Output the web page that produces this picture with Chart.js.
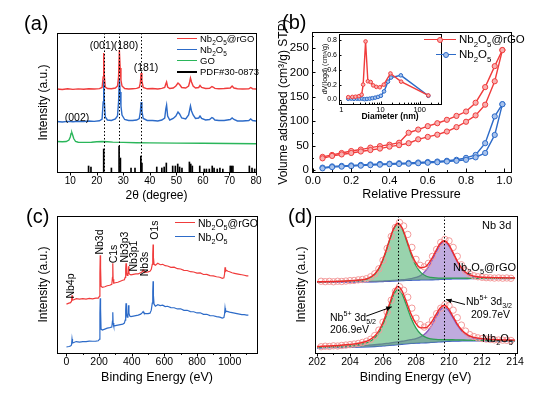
<!DOCTYPE html>
<html>
<head>
<meta charset="utf-8">
<script src="https://cdn.jsdelivr.net/npm/chart.js@4.4.1/dist/chart.umd.min.js"></script>
<style>
html, body { margin: 0; padding: 0; background: #fff; }
#page { position: relative; width: 540px; height: 397px; overflow: hidden; font-family: "Liberation Sans", Arial, sans-serif; color: #000; }
#page canvas { position: absolute; left: 0; top: 0; }
.t { position: absolute; white-space: nowrap; line-height: 1; }
.t sub, .t sup { font-size: 0.68em; line-height: 0; }
.cl { transform: translate(0, -50%); }
.cc { transform: translate(-50%, -50%); }
.cr { transform: translate(-100%, -50%); }
.rc { transform: translate(-50%, -50%) rotate(-90deg); }
.ln { position: absolute; height: 0; }
.mk { position: absolute; width: 4px; height: 4px; border: 1px solid; border-radius: 50%; }
</style>
</head>
<body>
<div id="page">
  <canvas id="xrd" width="540" height="397"></canvas>
  <canvas id="bet" width="540" height="397"></canvas>
  <canvas id="pore" width="540" height="397"></canvas>
  <canvas id="survey" width="540" height="397"></canvas>
  <canvas id="nb3d" width="540" height="397"></canvas>

  <!-- (a) -->
  <div class="t" style="left:24px;top:13px;font-size:20px">(a)</div>
  <div class="t cc" style="left:102px;top:45px;font-size:10.5px">(001)</div>
  <div class="t cc" style="left:126px;top:45px;font-size:10.5px">(180)</div>
  <div class="t cc" style="left:146px;top:67px;font-size:10.5px">(181)</div>
  <div class="t cc" style="left:77px;top:117px;font-size:10.5px">(002)</div>
  <div class="ln" style="left:177px;top:38.3px;width:20px;border-top:1.4px solid #f03c3c"></div>
  <div class="ln" style="left:177px;top:49.3px;width:20px;border-top:1.4px solid #2d6bc8"></div>
  <div class="ln" style="left:177px;top:60.3px;width:20px;border-top:1.4px solid #2ab65a"></div>
  <div class="ln" style="left:177px;top:71px;width:20px;border-top:2px solid #000"></div>
  <div class="t cl" style="left:200px;top:39px;font-size:9.5px">Nb<sub>2</sub>O<sub>5</sub>@rGO</div>
  <div class="t cl" style="left:200px;top:50px;font-size:9.5px">Nb<sub>2</sub>O<sub>5</sub></div>
  <div class="t cl" style="left:200px;top:61px;font-size:9.5px">GO</div>
  <div class="t cl" style="left:200px;top:72px;font-size:9.5px">PDF#30-0873</div>

  <!-- (b) -->
  <div class="t" style="left:282px;top:12px;font-size:20px">(b)</div>
  <div class="ln" style="left:424px;top:39.3px;width:32px;border-top:1.4px solid #f03c3c"></div>
  <div class="mk" style="left:437px;top:37px;border-color:#f03c3c;background:#f8b0b0"></div>
  <div class="t cl" style="left:459px;top:40px;font-size:11.5px">Nb<sub>2</sub>O<sub>5</sub>@rGO</div>
  <div class="ln" style="left:436px;top:54.3px;width:20px;border-top:1.4px solid #2d6bc8"></div>
  <div class="mk" style="left:443px;top:52px;border-color:#2d6bc8;background:#a9c3ec"></div>
  <div class="t cl" style="left:459px;top:55px;font-size:11.5px">Nb<sub>2</sub>O<sub>5</sub></div>

  <!-- (c) -->
  <div class="t" style="left:26px;top:206px;font-size:20px">(c)</div>
  <div class="t rc" style="left:70px;top:285.5px;font-size:10.5px">Nb4p</div>
  <div class="t rc" style="left:99px;top:242px;font-size:10.5px">Nb3d</div>
  <div class="t rc" style="left:112.5px;top:254px;font-size:10.5px">C1s</div>
  <div class="t rc" style="left:124px;top:247px;font-size:10.5px">Nb3p3</div>
  <div class="t rc" style="left:132.5px;top:256px;font-size:10.5px">Nb3p1</div>
  <div class="t rc" style="left:144px;top:264px;font-size:10.5px">Nb3s</div>
  <div class="t rc" style="left:154px;top:230px;font-size:10.5px">O1s</div>
  <div class="ln" style="left:175px;top:222.3px;width:20px;border-top:1.4px solid #f03c3c"></div>
  <div class="ln" style="left:175px;top:236.3px;width:20px;border-top:1.4px solid #2d6bc8"></div>
  <div class="t cl" style="left:198px;top:223px;font-size:10.5px">Nb<sub>2</sub>O<sub>5</sub>@rGO</div>
  <div class="t cl" style="left:198px;top:237px;font-size:10.5px">Nb<sub>2</sub>O<sub>5</sub></div>

  <!-- (d) -->
  <div class="t" style="left:288px;top:206px;font-size:20px">(d)</div>
  <div class="t cl" style="left:482px;top:225px;font-size:11px">Nb 3d</div>
  <div class="t cr" style="left:516px;top:267px;font-size:11px">Nb<sub>2</sub>O<sub>5</sub>@rGO</div>
  <div class="t cr" style="left:513px;top:338px;font-size:11px">Nb<sub>2</sub>O<sub>5</sub></div>
  <div class="t cl" style="left:466px;top:301px;font-size:10.5px">Nb<sup>5+</sup> 3d<sub>3/2</sub></div>
  <div class="t cl" style="left:471px;top:313.5px;font-size:10.5px">209.7eV</div>
  <div class="t cl" style="left:330px;top:316.5px;font-size:10.5px">Nb<sup>5+</sup> 3d<sub>5/2</sub></div>
  <div class="t cl" style="left:330px;top:329px;font-size:10.5px">206.9eV</div>
</div>

<script>
// ---------- (a) XRD ----------
const xrdAngle = [5, 7, 9, 11, 13, 15, 17, 19, 21, 22.0, 22.4, 22.6, 22.8, 23.2, 24, 25.5, 27,
  27.8, 28.2, 28.5, 28.8, 29.1, 29.5, 30.5, 32, 33.5, 35, 36.0, 36.4, 36.7, 37.0, 37.5,
  39, 41, 43, 44.5, 45.6, 46.0, 46.3, 46.7, 47.5, 48.8, 49.8, 50.6, 51.2, 52,
  53.5, 54.6, 55.0, 55.3, 55.7, 56.3, 57.2, 58.4, 58.9, 59.5, 61, 62.5, 63.4, 63.8, 64.5,
  66, 68, 70.3, 71.0, 71.7, 73, 75, 77.3, 78, 78.7, 80];
const xrdComposite = [83.0, 82.5, 83.2, 82.6, 83.1, 82.8, 83.3, 83.0, 83.4, 84.5, 95, 119, 97, 85,
  83.5, 83.2, 84, 86, 95, 122, 104, 92, 86, 83.5, 83, 83.3, 83.6, 84.5, 89, 99, 91, 84.5,
  83.2, 83.5, 83, 83.6, 84.5, 88, 90, 85, 83.5, 84, 86, 89, 87.5, 84.5,
  84, 86, 90, 94, 90, 86, 84, 84.5, 86.5, 84.5, 83.5, 83.8, 85.5, 85, 83.6,
  83.2, 83.5, 84, 86, 84, 83.2, 83, 83.2, 84.5, 83.3, 83.0];
const xrdBare = [50.5, 50, 50.6, 50.2, 50.8, 50.4, 51, 50.6, 51.2, 53, 70, 92, 72, 55,
  52, 51.5, 53, 56, 70, 94, 80, 66, 57, 52.5, 51.5, 51.5, 52, 53.5, 60, 70, 61, 53.5,
  51.5, 51.5, 51, 52, 54, 63, 67, 56, 52, 53.5, 56, 60, 58, 54,
  53, 57, 62, 66, 61, 57, 53.5, 54, 56, 53.5, 52, 52.5, 54.5, 54, 52,
  51.5, 51.5, 52.5, 54, 52.5, 51, 51, 51.5, 53, 51.5, 51];
const goAngle = [5, 7, 8.5, 9.5, 10, 10.3, 10.6, 10.9, 11.3, 12, 13, 15, 18, 20, 22, 24, 26, 30, 35, 40, 50, 60, 70, 80];
const goIntensity = [30.5, 30.2, 30.5, 32, 35, 38.5, 39.3, 37, 33.5, 30.5, 29.8, 29.6, 29.8, 30.3, 30.5, 30.2, 29.9, 29.6, 29.3, 29.1, 28.9, 28.7, 28.5, 28.3];
const pdfAngle = [16.9, 17.8, 22.6, 25.5, 28.4, 28.9, 32.9, 34.4, 36.6, 37.0, 42.6, 44.5, 45.4, 46.2, 48.6, 49.6, 50.5, 51.2, 52.1,
  54.9, 55.4, 56.0, 58.8, 60.5, 61.3, 62.4, 63.5, 64.2, 65.4, 66.4, 67.5, 70.3, 70.8, 71.3, 77.5, 78.5, 79.5];
const pdfIntensity = [6, 5, 23, 4, 26, 14, 4, 4, 16, 9, 5, 4, 5, 9, 6, 6, 8, 5, 4,
  10, 8, 6, 6, 3, 3, 3, 6, 4, 3, 4, 3, 6, 6, 6, 6, 4, 3];
const xrdTicks = [10, 20, 30, 40, 50, 60, 70, 80];
const xrdPlanes = [22.6, 28.4, 36.7];

// ---------- (b) N2 isotherms ----------
const adsPressure = [0.05, 0.1, 0.15, 0.2, 0.25, 0.3, 0.35, 0.4, 0.45, 0.5, 0.55, 0.6, 0.65, 0.7, 0.75, 0.8, 0.85, 0.9, 0.95, 0.99];
const desPressure = [0.99, 0.95, 0.9, 0.85, 0.8, 0.75, 0.7, 0.65, 0.6, 0.55, 0.5, 0.45, 0.4, 0.35, 0.3, 0.25, 0.2, 0.15, 0.1, 0.05];
const compositeAds = [24, 29, 32, 35, 38, 41, 44, 48, 51, 55, 63, 68, 72.5, 79, 88, 99, 112, 134, 182, 246];
const compositeDes = [246, 213, 170, 138, 120, 111, 103, 96, 90, 83, 76.5, 56, 52, 49, 46, 42, 39, 35, 31, 27];
const bareAds = [3.5, 6, 7, 8, 9, 10, 11, 12, 12.5, 13, 14, 15, 16, 17.5, 19, 21, 26, 35, 72, 135];
const bareDes = [135, 110, 55, 31, 25, 21, 19, 17.5, 16.5, 15.5, 14.5, 14, 13, 12.5, 11.5, 10.5, 9.5, 8.5, 7.5, 5];
const betTicksX = [0, 0.2, 0.4, 0.6, 0.8, 1.0];
const betMinorX = [0.1, 0.3, 0.5, 0.7, 0.9];
const betTicksY = [0, 50, 100, 150, 200, 250];
const betMinorY = [25, 75, 125, 175, 225, 275];

// inset: pore size distribution
const poreDiamComposite = [1.5, 1.9, 2.3, 2.8, 3.3, 3.6, 4.15, 4.75, 5.6, 6.5, 7.8, 9.6, 12.1, 17.9, 33.6, 166];
const poreVolComposite = [0.032, 0.035, 0.038, 0.045, 0.065, 0.2, 0.78, 0.245, 0.235, 0.19, 0.17, 0.165, 0.2, 0.35, 0.24, 0.055];
const poreDiamBare = [1.5, 1.8, 2.1, 2.5, 2.9, 3.4, 3.9, 4.5, 5.3, 6.2, 7.3, 8.6, 10.2, 12.3, 15.5, 18.5, 33, 166];
const poreVolBare = [0.01, 0.012, 0.01, 0.012, 0.01, 0.012, 0.005, 0.008, 0.012, 0.018, 0.025, 0.035, 0.05, 0.11, 0.24, 0.295, 0.325, 0.05];
const poreTicksX = [1, 10, 100];
const poreMinorX = [2, 3, 4, 5, 6, 7, 8, 9, 20, 30, 40, 50, 60, 70, 80, 90, 200, 300];
const poreTicksY = [0, 0.2, 0.4, 0.6, 0.8];

// ---------- (c) XPS survey ----------
const surveyEnergy = [0, 15, 25, 31, 34, 37, 45, 60, 80, 100, 120, 140, 160, 180, 195, 203, 205, 207, 209, 212,
  220, 235, 250, 265, 278, 282, 284, 286, 290, 300, 315, 330, 345, 355, 360, 363, 365, 368, 372, 377,
  380, 383, 388, 395, 410, 425, 440, 455, 465, 470, 475, 485, 500, 512, 520, 526, 529, 531, 533, 537,
  545, 560, 575, 590, 605, 620, 640, 660, 680, 700, 720, 740, 760, 780, 800, 820, 840, 860, 880, 900,
  920, 940, 955, 965, 969, 972, 975, 980, 990, 1000, 1015, 1030, 1045, 1060, 1075, 1090, 1105, 1115];
const surveyComposite = [49, 50, 50.5, 52, 58, 53, 53.5, 54.5, 54, 54.5, 54, 54.8, 54.3, 55, 55, 57, 80, 98, 86, 67,
  66, 66.5, 67.5, 68, 69, 76, 90, 74, 70, 70.5, 71, 72, 73, 73.5, 76, 84, 90, 81, 78, 79,
  87, 80, 79, 78.5, 79, 79.5, 79.5, 80.5, 81.5, 83.5, 82, 81, 81.5, 82, 84, 89, 99, 109, 96, 89,
  88, 90, 88.6, 89, 87.6, 87.3, 86, 86.2, 84.6, 84.3, 83, 82.8, 81.6, 81.3, 80.2, 80.4, 78.8, 78.9, 77.6, 77.4,
  76.5, 76, 75, 75.5, 79, 86, 82, 83, 82, 81.5, 80.5, 80, 79.5, 79, 78.5, 78, 77.5, 77.5];
const surveyBare = [6, 6.5, 7, 8, 14, 10, 10.5, 11.5, 11, 11.5, 11.5, 12, 11.8, 12, 12.3, 14, 40, 55, 45, 24,
  23, 24, 25, 25.5, 26, 32, 41, 30, 27, 27.5, 28, 28.5, 29, 30, 33, 43, 50, 40, 36, 38,
  48, 40, 37, 36.5, 37, 37.5, 38, 39, 40.5, 41.5, 40, 39.5, 39.5, 40, 43, 50, 62, 72, 58, 49,
  47, 48.5, 47.6, 48, 46.6, 46.9, 45.5, 45.4, 44.2, 44.4, 42.8, 42.9, 41.6, 41.4, 40.2, 40.4, 38.8, 38.9, 37.6, 37.4,
  36.5, 36, 35, 35.5, 39, 45, 41, 42, 41.5, 41, 40.5, 40, 39.5, 39, 38.5, 38.5, 38, 38];
const surveyTicks = [0, 200, 400, 600, 800, 1000];
const surveyMinor = [100, 300, 500, 700, 900, 1100];

// ---------- (d) Nb 3d ----------
const fitEnergy = [202, 203, 204, 204.6, 205.1, 205.5, 205.8, 206.1, 206.4, 206.65, 206.9, 207.15, 207.4, 207.7, 208, 208.3,
  208.6, 208.9, 209.2, 209.45, 209.7, 209.95, 210.2, 210.5, 210.8, 211.1, 211.5, 212, 212.5, 213, 214];
const baseTop = [71, 71.1, 71.2, 71.3, 71.4, 71.5, 71.6, 71.8, 72.0, 72.2, 72.4, 72.6, 72.8, 73.0, 73.2, 73.3,
  73.4, 73.5, 73.6, 73.8, 74.0, 74.2, 74.3, 74.4, 74.5, 74.5, 74.6, 74.6, 74.7, 74.7, 74.8];
const d52Top = [71.4, 71.7, 72.3, 73.0, 74.6, 78.9, 86.0, 98.0, 113.2, 124.5, 129.4, 124.9, 114.0, 99.2, 87.6, 80.7,
  77.3, 75.9, 75.3, 75.2, 75.1, 75.2, 75.2, 75.1, 75.1, 75.0, 75.0, 74.9, 75.0, 74.9, 74.9];
const d32Top = [71.1, 71.2, 71.4, 71.5, 71.7, 71.8, 72.0, 72.3, 72.55, 72.8, 73.15, 73.5, 73.9, 74.6, 75.8, 78.1,
  82.9, 90.7, 100.7, 108.2, 111.5, 108.6, 101.4, 91.6, 84.0, 79.3, 76.7, 75.7, 75.45, 75.25, 75.15];
const envTop = [71.5, 71.8, 72.5, 73.2, 74.9, 79.2, 86.4, 98.5, 113.8, 125.1, 130.2, 125.8, 115.1, 100.8, 90.2, 85.5,
  86.8, 93.1, 102.4, 109.6, 112.6, 109.6, 102.3, 92.3, 84.6, 79.8, 77.1, 76.0, 75.8, 75.5, 75.3];
const baseBottom = [5.0, 5.3, 5.6, 5.9, 6.2, 6.5, 6.8, 7.2, 7.6, 8.0, 8.4, 8.8, 9.2, 9.6, 9.9, 10.1,
  10.3, 10.6, 10.9, 11.2, 11.5, 11.7, 11.9, 12.0, 12.1, 12.1, 12.1, 12.1, 12.0, 12.0, 12.0];
const d52Bottom = [5.7, 6.3, 7.4, 8.6, 10.8, 15.2, 21.8, 32.8, 47.2, 58.7, 63.9, 59.5, 48.8, 35.2, 24.9, 18.8,
  15.6, 14.2, 13.6, 13.4, 13.4, 13.3, 13.3, 13.2, 13.1, 13.0, 12.8, 12.7, 12.5, 12.4, 12.3];
const d32Bottom = [5.8, 6.3, 6.8, 7.3, 7.8, 8.3, 8.8, 9.4, 10.0, 10.6, 11.2, 11.8, 12.5, 13.4, 14.5, 16.5,
  20.0, 26.5, 35.5, 42.7, 46.0, 43.2, 36.5, 27.9, 21.5, 17.5, 15.0, 13.8, 13.2, 12.9, 12.6];
const envBottom = [6.5, 7.3, 8.6, 10.0, 12.4, 17.0, 23.8, 35.0, 49.6, 61.3, 66.7, 62.5, 52.1, 39.0, 29.5, 25.2,
  25.3, 30.1, 38.2, 44.9, 47.9, 44.8, 37.9, 29.1, 22.5, 18.4, 15.7, 14.4, 13.7, 13.3, 12.9];
const rawEnergy = [202.25, 202.5, 202.75, 203, 203.25, 203.5, 203.75, 204, 204.25, 204.5, 204.75, 205, 205.25, 205.5, 205.75, 206,
  206.25, 206.5, 206.75, 207, 207.25, 207.5, 207.75, 208, 208.25, 208.5, 208.75, 209, 209.25, 209.5, 209.75, 210,
  210.25, 210.5, 210.75, 211, 211.25, 211.5, 211.75, 212, 212.25, 212.5, 212.75, 213, 213.25, 213.5, 213.75];
const rawTop = [72.0, 71.6, 71.9, 71.5, 72.0, 71.8, 72.2, 72.6, 72.8, 73.4, 73.8, 74.6, 76.5, 79.5, 84.5, 93,
  105, 117, 126, 131, 127.5, 119, 106, 94, 88, 86.5, 90, 97, 104, 111, 114, 112.5,
  106, 97, 88.5, 82.5, 79.5, 77.5, 76.5, 76, 75.6, 75.5, 75.2, 75.4, 75.1, 75.3, 75.0];
const rawBottom = [6.3, 6.8, 6.6, 7.2, 7.0, 7.6, 8.0, 8.4, 9.0, 9.6, 10.6, 11.8, 13.8, 17.5, 23, 31,
  41, 53, 62, 66.5, 63, 56, 45, 35, 28.5, 26, 28, 33, 39.5, 45, 48.5, 47.5,
  43, 35.5, 28, 22, 18.5, 16.5, 15.2, 14.5, 14, 13.6, 13.2, 13.0, 12.9, 12.7, 12.6];
const nbTicks = [202, 204, 206, 208, 210, 212, 214];
const nbMinor = [203, 205, 207, 209, 211, 213];
const nbPeaks = [206.9, 209.7];
// arrows: [fromE, fromI, toE, toI]
const nbArrows = [[204.98, 37, 206.53, 46.3], [210.97, 48.7, 209.82, 53.7]];

// ---------- helpers ----------
Chart.defaults.font.family = '"Liberation Sans", Arial, sans-serif';
Chart.defaults.color = '#000';

const RED = '#f03c3c', BLUE = '#2d6bc8', GREEN = '#2ab65a';

function pts(xs, ys) {
  return xs.map((x, i) => ({x: x, y: ys[i]}));
}

function axis(o) {
  return {
    type: o.log ? 'logarithmic' : 'linear',
    min: o.min, max: o.max, bounds: 'data', offset: false,
    grid: {display: false, drawTicks: false},
    border: {display: false},
    title: {display: !!o.title, text: o.title || '', padding: 0,
      font: {size: o.titleSize || 12, weight: o.bold ? 'bold' : 'normal'}},
    ticks: {display: !!o.ticks, autoSkip: false, maxRotation: 0, minRotation: 0,
      padding: o.pad || 0, font: {size: o.size || 10}, callback: o.fmt || (v => v)},
    afterBuildTicks: s => { s.ticks = (o.ticks || []).map(v => ({value: v})); },
    afterFit: s => { if (s.isHorizontal()) s.height = o.fit; else s.width = o.fit; }
  };
}

// frame, tick marks, dotted guides and arrows
function decorations(cfg) {
  return {
    id: 'decorations',
    afterDraw(chart) {
      const ctx = chart.ctx, a = chart.chartArea;
      const xs = chart.scales.x, ys = chart.scales.y;
      ctx.save();
      ctx.strokeStyle = '#000';
      ctx.fillStyle = '#000';
      ctx.lineWidth = 1;
      (cfg.vlines || []).forEach(v => {
        const p = Math.round(xs.getPixelForValue(v)) + 0.5;
        ctx.setLineDash([1.5, 2]);
        ctx.beginPath(); ctx.moveTo(p, a.top); ctx.lineTo(p, a.bottom); ctx.stroke();
      });
      ctx.setLineDash([]);
      ctx.strokeRect(Math.round(a.left) + 0.5, Math.round(a.top) + 0.5,
        Math.round(a.right - a.left), Math.round(a.bottom - a.top));
      (cfg.ticks || []).forEach(t => {
        const s = chart.scales[t.axis];
        const dir = t.inward ? -1 : 1;
        const mark = (v, len) => {
          const p = Math.round(s.getPixelForValue(v)) + 0.5;
          ctx.beginPath();
          if (s.isHorizontal()) { ctx.moveTo(p, a.bottom); ctx.lineTo(p, a.bottom + dir * len); }
          else { ctx.moveTo(a.left, p); ctx.lineTo(a.left - dir * len, p); }
          ctx.stroke();
        };
        s.ticks.forEach(k => mark(k.value, t.len || 3.5));
        (t.minor || []).forEach(v => mark(v, (t.len || 3.5) * 0.55));
      });
      (cfg.arrows || []).forEach(ar => {
        const x1 = xs.getPixelForValue(ar[0]), y1 = ys.getPixelForValue(ar[1]);
        const x2 = xs.getPixelForValue(ar[2]), y2 = ys.getPixelForValue(ar[3]);
        const ang = Math.atan2(y2 - y1, x2 - x1);
        ctx.beginPath(); ctx.moveTo(x1, y1); ctx.lineTo(x2, y2); ctx.stroke();
        ctx.beginPath(); ctx.moveTo(x2, y2);
        ctx.lineTo(x2 - 6 * Math.cos(ang - 0.4), y2 - 6 * Math.sin(ang - 0.4));
        ctx.lineTo(x2 - 6 * Math.cos(ang + 0.4), y2 - 6 * Math.sin(ang + 0.4));
        ctx.closePath(); ctx.fill();
      });
      ctx.restore();
    }
  };
}

function makeChart(id, datasets, scales, pad, deco) {
  return new Chart(document.getElementById(id), {
    type: 'line',
    data: {datasets: datasets},
    options: {
      responsive: false, animation: false, devicePixelRatio: 1, events: [],
      layout: {padding: pad},
      plugins: {legend: {display: false}, tooltip: {enabled: false}},
      scales: scales
    },
    plugins: [decorations(deco)]
  });
}

function line(data, color, width) {
  return {data: data, borderColor: color, borderWidth: width || 1.2, pointRadius: 0, tension: 0, fill: false};
}

function marked(data, color, light, r) {
  return {data: data, borderColor: color, borderWidth: 1.4, pointRadius: r, pointBorderWidth: 1,
    pointBorderColor: color, pointBackgroundColor: light, tension: 0, fill: false};
}

// ---------- (a) ----------
makeChart('xrd', [
  line(pts(xrdAngle, xrdComposite), RED, 1.4),
  line(pts(xrdAngle, xrdBare), BLUE, 1.4),
  line(pts(goAngle, goIntensity), GREEN, 1.4),
  {type: 'bar', data: pts(pdfAngle, pdfIntensity), backgroundColor: '#000', barThickness: 1, grouped: false}
], {
  x: axis({min: 5, max: 80, ticks: xrdTicks, size: 10, pad: 3.5, title: '2θ (degree)', titleSize: 12, fit: 31}),
  y: axis({min: 0, max: 139, title: 'Intensity (a.u.)', titleSize: 12, fit: 21})
}, {left: 36, top: 33, right: 284, bottom: 194}, {
  ticks: [{axis: 'x'}], vlines: xrdPlanes
});

// ---------- (b) ----------
makeChart('bet', [
  marked(pts(adsPressure, compositeAds), RED, '#f8b0b0', 2.6),
  marked(pts(desPressure, compositeDes), RED, '#f8b0b0', 2.6),
  marked(pts(adsPressure, bareAds), BLUE, '#a9c3ec', 2.6),
  marked(pts(desPressure, bareDes), BLUE, '#a9c3ec', 2.6)
], {
  x: axis({min: -0.005, max: 1.035, ticks: betTicksX, size: 11.5, pad: 2, fmt: v => v.toFixed(1),
    title: 'Relative Pressure', titleSize: 12.5, fit: 30.5}),
  y: axis({min: -4, max: 283, ticks: betTicksY, size: 11.5, pad: 3,
    title: 'Volume adsorbed (cm³/g) STP)', titleSize: 12, fit: 36})
}, {left: 276, top: 32, right: 29, bottom: 194.5}, {
  ticks: [{axis: 'x', inward: true, minor: betMinorX}, {axis: 'y', inward: true, minor: betMinorY}]
});

makeChart('pore', [
  marked(pts(poreDiamComposite, poreVolComposite), RED, '#f8b0b0', 1.8),
  marked(pts(poreDiamBare, poreVolBare), BLUE, '#a9c3ec', 1.8)
], {
  x: axis({log: true, min: 0.87, max: 350, ticks: poreTicksX, size: 7.5, pad: 1,
    title: 'Diameter (nm)', titleSize: 8.5, bold: true, fit: 18}),
  y: axis({min: -0.06, max: 0.88, ticks: poreTicksY, size: 7, pad: 2, fmt: v => v.toFixed(1),
    title: 'dV(logd) (cm³/g)', titleSize: 7, fit: 18.5})
}, {left: 320.5, top: 34, right: 99, bottom: 275}, {
  ticks: [{axis: 'x', inward: true, len: 2.5, minor: poreMinorX}, {axis: 'y', inward: true, len: 2.5}]
});

// ---------- (c) ----------
makeChart('survey', [
  line(pts(surveyEnergy, surveyComposite), RED, 1.2),
  line(pts(surveyEnergy, surveyBare), BLUE, 1.2)
], {
  x: axis({min: -58, max: 1168, ticks: surveyTicks, size: 10.5, pad: 3,
    title: 'Binding Energy (eV)', titleSize: 12.5, fit: 32}),
  y: axis({min: 0, max: 137.5, title: 'Intensity (a.u.)', titleSize: 12, fit: 21})
}, {left: 36, top: 216, right: 283, bottom: 12}, {
  ticks: [{axis: 'x', minor: surveyMinor}]
});

// ---------- (d) ----------
const circles = (data) => ({data: data, showLine: false, pointRadius: 3.2, pointBorderWidth: 1,
  pointBorderColor: '#f39a9a', pointBackgroundColor: 'rgba(0,0,0,0)', fill: false});
const peak = (data, line, area, base) => ({data: data, borderColor: line, borderWidth: 1.3, pointRadius: 0,
  cubicInterpolationMode: 'monotone', backgroundColor: area, fill: {target: base}});
const smooth = (data, color, width) => ({data: data, borderColor: color, borderWidth: width, pointRadius: 0,
  cubicInterpolationMode: 'monotone', fill: false});

makeChart('nb3d', [
  smooth(pts(fitEnergy, envTop), '#ee2a2a', 1.4),
  smooth(pts(fitEnergy, envBottom), '#ee2a2a', 1.4),
  circles(pts(rawEnergy, rawTop)),
  circles(pts(rawEnergy, rawBottom)),
  peak(pts(fitEnergy, d52Top), '#2f9e55', 'rgba(70,175,105,0.55)', 8),
  peak(pts(fitEnergy, d32Top), '#8757bf', 'rgba(150,115,200,0.6)', 8),
  peak(pts(fitEnergy, d52Bottom), '#2f9e55', 'rgba(70,175,105,0.55)', 9),
  peak(pts(fitEnergy, d32Bottom), '#8757bf', 'rgba(150,115,200,0.6)', 9),
  smooth(pts(fitEnergy, baseTop), '#3558c8', 1.3),
  smooth(pts(fitEnergy, baseBottom), '#3558c8', 1.3)
], {
  x: axis({min: 201.85, max: 214.1, ticks: nbTicks, size: 10.5, pad: 3,
    title: 'Binding Energy (eV)', titleSize: 12.5, fit: 32}),
  y: axis({min: 0, max: 137.5, title: 'Intensity (a.u.)', titleSize: 12, fit: 20})
}, {left: 294.5, top: 216, right: 23.3, bottom: 12}, {
  ticks: [{axis: 'x', minor: nbMinor}], vlines: nbPeaks, arrows: nbArrows
});
</script>
</body>
</html>
